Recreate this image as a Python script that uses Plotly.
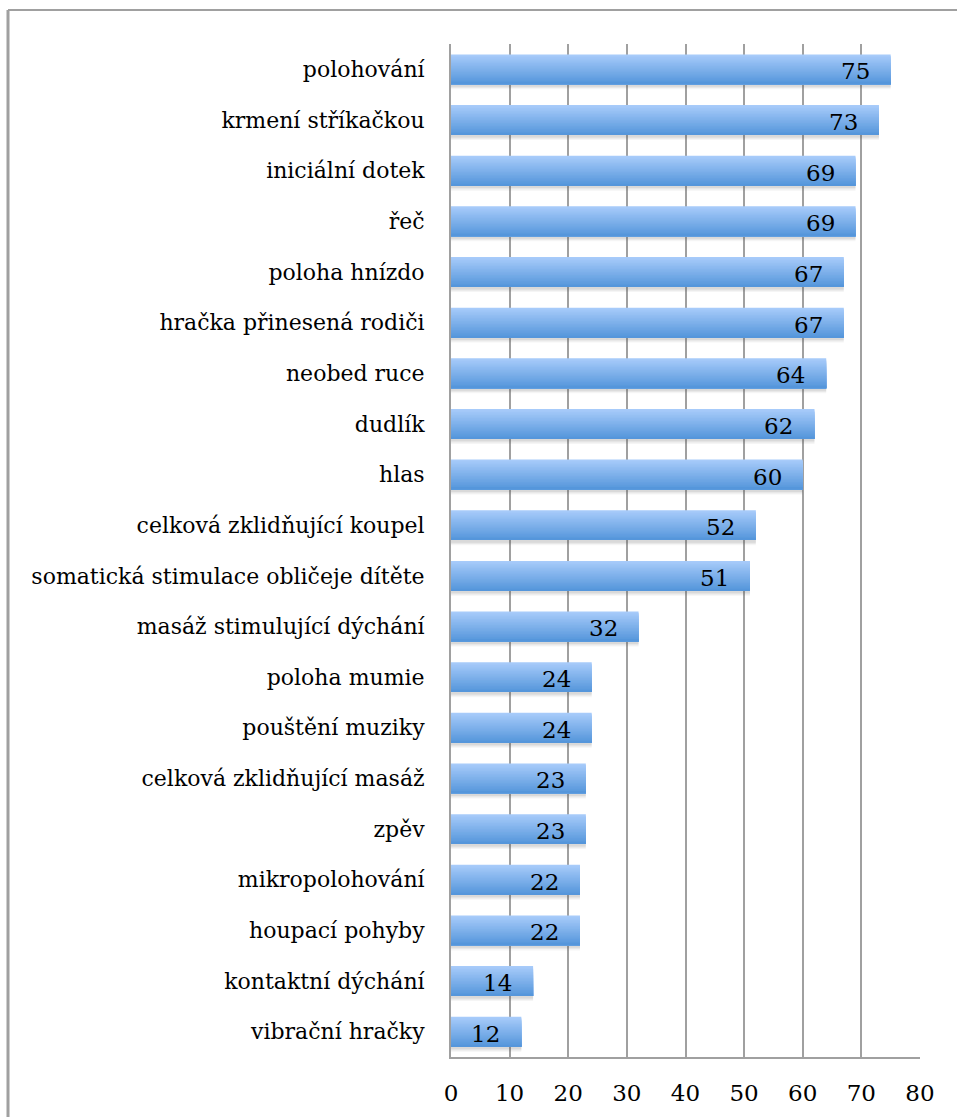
import plotly.graph_objects as go

categories = ["polohování", "krmení stříkačkou", "iniciální dotek", "řeč", "poloha hnízdo",
              "hračka přinesená rodiči", "neobed ruce", "dudlík", "hlas",
              "celková zklidňující koupel", "somatická stimulace obličeje dítěte",
              "masáž stimulující dýchání", "poloha mumie", "pouštění muziky",
              "celková zklidňující masáž", "zpěv", "mikropolohování", "houpací pohyby",
              "kontaktní dýchání", "vibrační hračky"]
values = [75, 73, 69, 69, 67, 67, 64, 62, 60, 52, 51, 32, 24, 24, 23, 23, 22, 22, 14, 12]
x_ticks = [0, 10, 20, 30, 40, 50, 60, 70, 80]

FONT = "DejaVu Serif"
W, H = 957, 1117
L, R, T, B = 451, 37, 44, 60

fig = go.Figure()

bw = 0.59
# soft shadow
for k, (off, a) in enumerate([(0.10, 0.06), (0.075, 0.08), (0.05, 0.10)]):
    fig.add_trace(go.Bar(y=categories, x=values, orientation="h", width=bw, offset=-bw / 2 + off,
                         marker=dict(color="rgba(90,90,90,%.2f)" % a, line=dict(width=0)),
                         hoverinfo="skip", showlegend=False))

top = (167, 203, 250)
bot = (85, 150, 219)
N = 20
sw = bw / N
for i in range(N):
    t = i / (N - 1)
    c = tuple(round(top[k] + (bot[k] - top[k]) * t) for k in range(3))
    fig.add_trace(go.Bar(y=categories, x=values, orientation="h", width=bw - i * sw,
                         offset=-bw / 2 + i * sw,
                         marker=dict(color="rgb(%d,%d,%d)" % c, line=dict(width=0)),
                         hoverinfo="skip", showlegend=False))

for c, v in zip(categories, values):
    fig.add_annotation(x=v, y=c, text=str(v), showarrow=False, xanchor="right",
                       xshift=-19, yshift=-2, font=dict(family=FONT, size=23, color="#000"))

fig.update_layout(
    width=W, height=H, barmode="overlay",
    margin=dict(l=L, r=R, t=T, b=B, autoexpand=False),
    paper_bgcolor="white", plot_bgcolor="white",
    font=dict(family=FONT, size=22, color="#000"),
    xaxis=dict(range=[0, 80], tickvals=x_ticks, showgrid=True, gridcolor="#a0a0a0", gridwidth=2,
               showline=True, linecolor="#a0a0a0", linewidth=2, zeroline=False,
               ticks="", ticklabelstandoff=14, tickfont=dict(family=FONT, size=23),
               fixedrange=True),
    yaxis=dict(categoryorder="array", categoryarray=categories, autorange="reversed",
               showline=True, linecolor="#a0a0a0", linewidth=2, showgrid=False,
               ticks="", ticklabelstandoff=20, tickfont=dict(family=FONT, size=22)),
)

# outer chart border (left and top edges visible)
pw = W - L - R
ph = H - T - B
x_left = (8 - L) / pw
y_top = 1 + (T - 10) / ph
x_right = (W + 20 - L) / pw
y_bot = -(B + 20) / ph
fig.add_shape(type="line", xref="paper", yref="paper", x0=x_left, x1=x_right, y0=y_top, y1=y_top,
              line=dict(color="#a0a0a0", width=2))
fig.add_shape(type="line", xref="paper", yref="paper", x0=x_left, x1=x_left, y0=y_bot, y1=y_top,
              line=dict(color="#a0a0a0", width=3))

fig.write_html("out.html")
